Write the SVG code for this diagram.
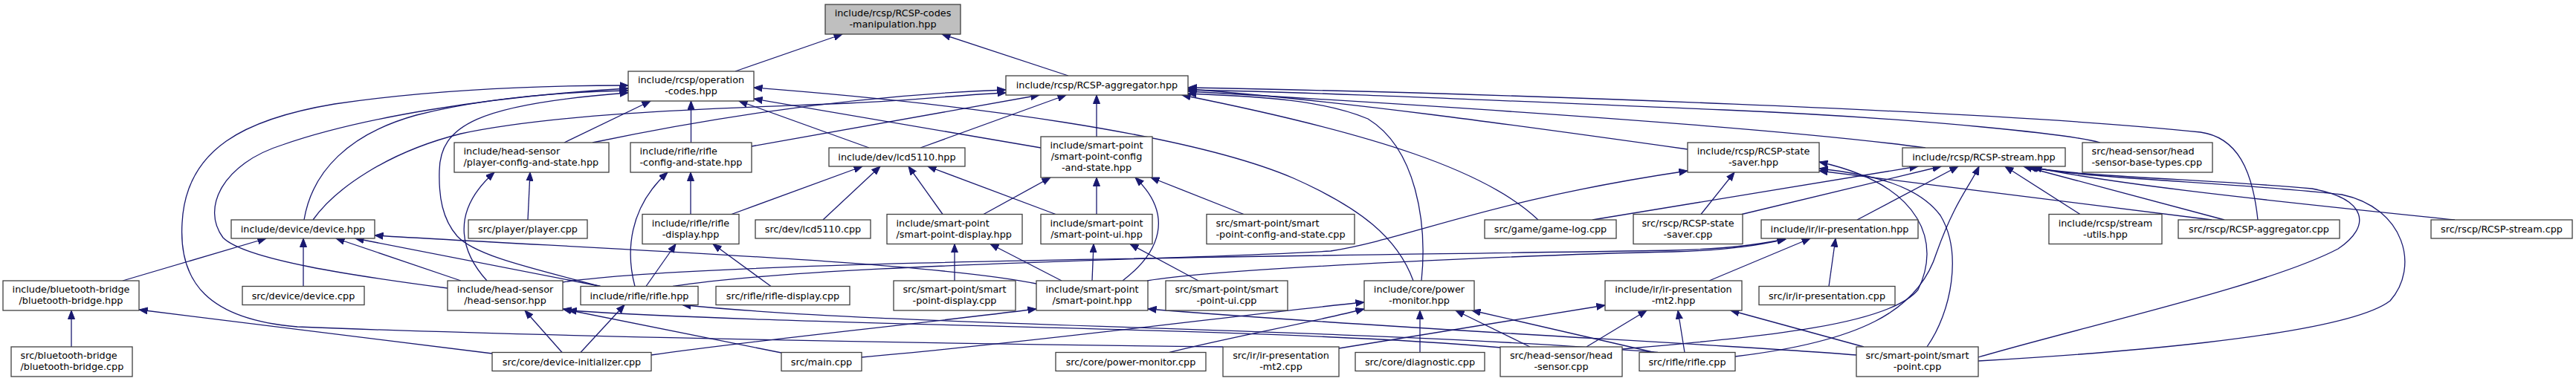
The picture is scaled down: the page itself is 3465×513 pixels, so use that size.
<svg xmlns="http://www.w3.org/2000/svg" width="3465" height="513" viewBox="0 0 3465 513">
<defs>
<marker id="a" markerUnits="userSpaceOnUse" markerWidth="12" markerHeight="10" refX="11.5" refY="5" orient="auto" viewBox="0 0 12 10"><path d="M0,0.5 L11.5,5 L0,9.5 z" fill="#191970" stroke="#191970" stroke-width="1"/></marker>
<style>
.n rect{fill:#fff;stroke:#404040;stroke-width:1.3}
.root rect{fill:#bfbfbf}
text{font-family:"DejaVu Sans",Verdana,sans-serif;font-size:12.8px;fill:#000;text-anchor:middle}
.l text{text-anchor:start}
#edges path{fill:none;stroke:#191970;stroke-width:1.3;marker-end:url(#a)}
</style>
</defs>
<rect width="3465" height="513" fill="#fff"/>
<g id="edges">
<path d="M989,96 L1133,46"/>
<path d="M1437,102 L1267,46"/>
<path d="M759,192 L875,136"/>
<path d="M929.5,192 L929.5,136"/>
<path d="M1169,199 L994,136"/>
<path d="M1400,199 L1014,133"/>
<path d="M1901,378 C1880,320 1830,280 1740,240 C1600,180 1300,140 1014,118"/>
<path d="M1912,378 C1920,300 1905,200 1840,160 C1780,135 1700,130 1598,126"/>
<path d="M409,296 C420,230 470,180 560,155 C650,132 750,124 845,122"/>
<path d="M421,296 C450,255 520,205 620,180 C760,150 1000,145 1140,139 C1230,135 1300,127 1353,125"/>
<path d="M797,192 C950,160 1150,128 1353,121"/>
<path d="M1011,197 L1398,128"/>
<path d="M1238,199 L1434,128"/>
<path d="M1475,184 L1475,128"/>
<path d="M807,385.5 C720,362 640,345 615,318 C595,295 590,265 591,230 C592,170 640,140 845,125"/>
<path d="M602,388 C480,372 330,350 300,320 C270,280 300,220 380,195 C480,160 650,130 845,119"/>
<path d="M1645,467 C1200,462 700,452 400,440 C280,430 240,380 245,300 C250,200 330,160 450,140 C600,118 750,115 845,115"/>
<path d="M165,378 L358,321"/>
<path d="M408,385.5 L408,321"/>
<path d="M620,378 L452,321"/>
<path d="M808,385.5 L478,321"/>
<path d="M1394,382 C1250,352 800,335 504,317"/>
<path d="M710,296 L713,232"/>
<path d="M655,378 C625,345 600,290 665,232"/>
<path d="M929,288.5 L929,232"/>
<path d="M854,385.5 C842,340 845,280 898,232"/>
<path d="M869,385.5 L909,328.5"/>
<path d="M1037,385.5 L959,328.5"/>
<path d="M1107,296 L1184,224"/>
<path d="M984,288.5 L1160,224"/>
<path d="M1268,288.5 L1222,224"/>
<path d="M1420,288.5 L1248,224"/>
<path d="M1323,288.5 L1413,239"/>
<path d="M1475,288.5 L1475,239"/>
<path d="M1510,378 C1560,340 1580,290 1527,239"/>
<path d="M1673,288.5 L1548,239"/>
<path d="M1284,378 L1284,328.5"/>
<path d="M1428,378 L1332,328.5"/>
<path d="M1469,378 L1471,328.5"/>
<path d="M1612,378 L1520,328.5"/>
<path d="M96,467 L96,418"/>
<path d="M662,476 L187,417"/>
<path d="M756,474.5 L706,418"/>
<path d="M781,474.5 L840,410.5"/>
<path d="M1051,475 L757,416"/>
<path d="M876,478 C1000,460 1200,440 1394,416"/>
<path d="M1159,481 C1400,460 1700,420 1835,407"/>
<path d="M1573,474.5 C1650,455 1760,435 1835,416"/>
<path d="M2019,468 C1700,440 1100,440 764,418"/>
<path d="M2230,474.5 C1800,440 1200,440 918,410.5"/>
<path d="M1801,469 L2159,411"/>
<path d="M1910,474.5 L1910,418"/>
<path d="M2058,467 L1958,418"/>
<path d="M2225,474.5 L1980,418"/>
<path d="M2134,467 L2215,418"/>
<path d="M2266,474.5 L2257,418"/>
<path d="M2507,467 L2328,418"/>
<path d="M2497,478 C2300,462 1900,445 1544,416"/>
<path d="M2182,470 C2350,455 2540,440 2580,390 C2610,330 2590,250 2447,218"/>
<path d="M2592,467 C2625,420 2640,340 2610,290 C2580,250 2520,235 2447,227"/>
<path d="M2975,296 L2447,230"/>
<path d="M2288,288.5 L2333,232"/>
<path d="M2270,201 C2050,170 1800,135 1598,120"/>
<path d="M905,385.5 C1100,355 1600,350 1790,338 C1900,320 2000,270 2270,230"/>
<path d="M757,380 C950,350 1800,345 2250,337 C2330,335 2370,328 2402,322"/>
<path d="M1543,378 C1650,360 2100,342 2250,339 C2330,337 2370,329 2402,322"/>
<path d="M2299,378 L2435,321"/>
<path d="M2460,385.5 L2469,321"/>
<path d="M2498,296 L2634,224"/>
<path d="M2343,288.5 L2611,224"/>
<path d="M2142,296 L2580,224"/>
<path d="M2069,296 C2000,230 1850,180 1590,128"/>
<path d="M2334,480 C2500,460 2580,420 2605,340 C2630,270 2650,250 2662,224"/>
<path d="M2798,288.5 L2697,224"/>
<path d="M2992,296 L2722,224"/>
<path d="M3302,296 C3100,275 2850,250 2735,225"/>
<path d="M2661,486 C2800,478 3150,455 3215,405 C3255,360 3235,280 3150,262 C3000,245 2820,242 2730,225"/>
<path d="M2661,481 C2800,440 3050,385 3145,335 C3190,305 3185,268 3110,254 C2980,242 2800,238 2728,225"/>
<path d="M3037,296 C3030,230 3010,185 2960,178 C2700,150 2000,125 1598,118"/>
<path d="M2825,192 C2790,182 2600,160 2320,148 C2000,135 1800,125 1598,121"/>
<path d="M2590,199 C2450,180 2150,155 1598,123"/>
</g>
<g id="node-rcsp-codes-manipulation" class="n root"><rect x="1110" y="6" width="182" height="40"/><text x="1201" y="22">include/rcsp/RCSP-codes</text><text x="1201" y="37">-manipulation.hpp</text></g>
<g id="node-operation-codes" class="n"><rect x="845" y="96" width="169" height="40"/><text x="929.5" y="112">include/rcsp/operation</text><text x="929.5" y="127">-codes.hpp</text></g>
<g id="node-rcsp-aggregator-hpp" class="n"><rect x="1353" y="102" width="245" height="26"/><text x="1475.5" y="119">include/rcsp/RCSP-aggregator.hpp</text></g>
<g id="node-player-config-and-state" class="n l"><rect x="611" y="192" width="208" height="40"/><text x="623.5" y="208">include/head-sensor</text><text x="623.5" y="223">/player-config-and-state.hpp</text></g>
<g id="node-rifle-config-and-state" class="n l"><rect x="848" y="192" width="163" height="40"/><text x="860.5" y="208">include/rifle/rifle</text><text x="860.5" y="223">-config-and-state.hpp</text></g>
<g id="node-lcd5110-hpp" class="n"><rect x="1115" y="199" width="183" height="25"/><text x="1206.5" y="216">include/dev/lcd5110.hpp</text></g>
<g id="node-smart-point-config-and-state" class="n"><rect x="1400" y="184" width="150" height="55"/><text x="1475" y="200">include/smart-point</text><text x="1475" y="215">/smart-point-config</text><text x="1475" y="230">-and-state.hpp</text></g>
<g id="node-rcsp-state-saver-hpp" class="n"><rect x="2270" y="192" width="177" height="40"/><text x="2358.5" y="208">include/rcsp/RCSP-state</text><text x="2358.5" y="223">-saver.hpp</text></g>
<g id="node-rcsp-stream-hpp" class="n"><rect x="2559" y="199" width="219" height="25"/><text x="2668.5" y="216">include/rcsp/RCSP-stream.hpp</text></g>
<g id="node-head-sensor-base-types" class="n l"><rect x="2801" y="192" width="175" height="40"/><text x="2813.5" y="208">src/head-sensor/head</text><text x="2813.5" y="223">-sensor-base-types.cpp</text></g>
<g id="node-device-hpp" class="n"><rect x="311" y="296" width="193" height="25"/><text x="407.5" y="313">include/device/device.hpp</text></g>
<g id="node-player-cpp" class="n"><rect x="630" y="296" width="160" height="25"/><text x="710" y="313">src/player/player.cpp</text></g>
<g id="node-rifle-display-hpp" class="n"><rect x="864" y="288.5" width="130" height="40"/><text x="929" y="304.5">include/rifle/rifle</text><text x="929" y="319.5">-display.hpp</text></g>
<g id="node-lcd5110-cpp" class="n"><rect x="1016" y="296" width="155" height="25"/><text x="1093.5" y="313">src/dev/lcd5110.cpp</text></g>
<g id="node-smart-point-display-hpp" class="n l"><rect x="1193" y="288.5" width="182" height="40"/><text x="1205.5" y="304.5">include/smart-point</text><text x="1205.5" y="319.5">/smart-point-display.hpp</text></g>
<g id="node-smart-point-ui-hpp" class="n"><rect x="1400" y="288.5" width="150" height="40"/><text x="1475" y="304.5">include/smart-point</text><text x="1475" y="319.5">/smart-point-ui.hpp</text></g>
<g id="node-smart-point-config-and-state-cpp" class="n l"><rect x="1623" y="288.5" width="199" height="40"/><text x="1635.5" y="304.5">src/smart-point/smart</text><text x="1635.5" y="319.5">-point-config-and-state.cpp</text></g>
<g id="node-game-log-cpp" class="n"><rect x="1997" y="296" width="177" height="25"/><text x="2085.5" y="313">src/game/game-log.cpp</text></g>
<g id="node-rcsp-state-saver-cpp" class="n"><rect x="2197" y="288.5" width="147" height="40"/><text x="2270.5" y="304.5">src/rscp/RCSP-state</text><text x="2270.5" y="319.5">-saver.cpp</text></g>
<g id="node-ir-presentation-hpp" class="n"><rect x="2369" y="296" width="211" height="25"/><text x="2474.5" y="313">include/ir/ir-presentation.hpp</text></g>
<g id="node-stream-utils-hpp" class="n"><rect x="2756" y="288.5" width="152" height="40"/><text x="2832" y="304.5">include/rcsp/stream</text><text x="2832" y="319.5">-utils.hpp</text></g>
<g id="node-rcsp-aggregator-cpp" class="n"><rect x="2930" y="296" width="217" height="25"/><text x="3038.5" y="313">src/rscp/RCSP-aggregator.cpp</text></g>
<g id="node-rcsp-stream-cpp" class="n"><rect x="3270" y="296" width="190" height="25"/><text x="3365" y="313">src/rscp/RCSP-stream.cpp</text></g>
<g id="node-bluetooth-bridge-hpp" class="n"><rect x="4" y="378" width="183" height="40"/><text x="95.5" y="394">include/bluetooth-bridge</text><text x="95.5" y="409">/bluetooth-bridge.hpp</text></g>
<g id="node-device-cpp" class="n"><rect x="326" y="385.5" width="164" height="25"/><text x="408" y="402.5">src/device/device.cpp</text></g>
<g id="node-head-sensor-hpp" class="n"><rect x="602" y="378" width="155" height="40"/><text x="679.5" y="394">include/head-sensor</text><text x="679.5" y="409">/head-sensor.hpp</text></g>
<g id="node-rifle-hpp" class="n"><rect x="781" y="385.5" width="158" height="25"/><text x="860" y="402.5">include/rifle/rifle.hpp</text></g>
<g id="node-rifle-display-cpp" class="n"><rect x="963" y="385.5" width="180" height="25"/><text x="1053" y="402.5">src/rifle/rifle-display.cpp</text></g>
<g id="node-smart-point-display-cpp" class="n"><rect x="1202" y="378" width="164" height="40"/><text x="1284" y="394">src/smart-point/smart</text><text x="1284" y="409">-point-display.cpp</text></g>
<g id="node-smart-point-hpp" class="n"><rect x="1394" y="378" width="150" height="40"/><text x="1469" y="394">include/smart-point</text><text x="1469" y="409">/smart-point.hpp</text></g>
<g id="node-smart-point-ui-cpp" class="n"><rect x="1568" y="378" width="164" height="40"/><text x="1650" y="394">src/smart-point/smart</text><text x="1650" y="409">-point-ui.cpp</text></g>
<g id="node-power-monitor-hpp" class="n"><rect x="1835" y="378" width="148" height="40"/><text x="1909" y="394">include/core/power</text><text x="1909" y="409">-monitor.hpp</text></g>
<g id="node-ir-presentation-mt2-hpp" class="n"><rect x="2159" y="378" width="184" height="40"/><text x="2251" y="394">include/ir/ir-presentation</text><text x="2251" y="409">-mt2.hpp</text></g>
<g id="node-ir-presentation-cpp" class="n"><rect x="2366" y="385.5" width="183" height="25"/><text x="2457.5" y="402.5">src/ir/ir-presentation.cpp</text></g>
<g id="node-bluetooth-bridge-cpp" class="n l"><rect x="15" y="467" width="163" height="40"/><text x="27.5" y="483">src/bluetooth-bridge</text><text x="27.5" y="498">/bluetooth-bridge.cpp</text></g>
<g id="node-device-initializer-cpp" class="n"><rect x="662" y="474.5" width="214" height="25"/><text x="769" y="491.5">src/core/device-initializer.cpp</text></g>
<g id="node-main-cpp" class="n"><rect x="1051" y="474.5" width="108" height="25"/><text x="1105" y="491.5">src/main.cpp</text></g>
<g id="node-power-monitor-cpp" class="n"><rect x="1420" y="474.5" width="202" height="25"/><text x="1521" y="491.5">src/core/power-monitor.cpp</text></g>
<g id="node-ir-presentation-mt2-cpp" class="n"><rect x="1645" y="467" width="156" height="40"/><text x="1723" y="483">src/ir/ir-presentation</text><text x="1723" y="498">-mt2.cpp</text></g>
<g id="node-diagnostic-cpp" class="n"><rect x="1823" y="474.5" width="174" height="25"/><text x="1910" y="491.5">src/core/diagnostic.cpp</text></g>
<g id="node-head-sensor-cpp" class="n"><rect x="2018" y="467" width="164" height="40"/><text x="2100" y="483">src/head-sensor/head</text><text x="2100" y="498">-sensor.cpp</text></g>
<g id="node-rifle-cpp" class="n"><rect x="2205" y="474.5" width="129" height="25"/><text x="2269.5" y="491.5">src/rifle/rifle.cpp</text></g>
<g id="node-smart-point-cpp" class="n"><rect x="2497" y="467" width="164" height="40"/><text x="2579" y="483">src/smart-point/smart</text><text x="2579" y="498">-point.cpp</text></g>
</svg>
